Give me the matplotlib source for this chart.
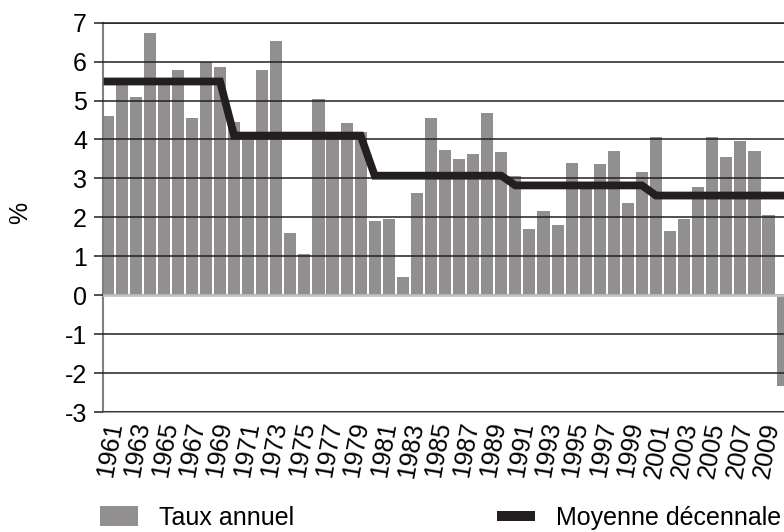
import matplotlib
matplotlib.use("Agg")
import matplotlib.pyplot as plt
from matplotlib.patches import Patch
from matplotlib.lines import Line2D

# annual growth rate, 1961-2009
years = list(range(1961, 2010))
rates = [4.60, 5.41, 5.08, 6.74, 5.45, 5.79, 4.55, 6.00, 5.86, 4.45,
         4.15, 5.79, 6.53, 1.59, 1.06, 5.03, 4.05, 4.43, 4.20, 1.90,
         1.95, 0.46, 2.63, 4.55, 3.73, 3.49, 3.63, 4.68, 3.68, 3.07,
         1.69, 2.17, 1.80, 3.39, 2.85, 3.37, 3.71, 2.37, 3.17, 4.07,
         1.64, 1.96, 2.77, 4.07, 3.56, 3.95, 3.71, 2.06, -2.32]

# decade average, one value per year
decade_avg = [5.49] * 9 + [4.10] * 10 + [3.07] * 10 + [2.82] * 10 + [2.56] * 10

tick_years = list(range(1961, 2010, 2))
y_ticks = [-3, -2, -1, 0, 1, 2, 3, 4, 5, 6, 7]

bar_color = "#918f90"
dark = "#231f20"

plt.rcParams["font.family"] = ["Liberation Sans", "DejaVu Sans"]
plt.rcParams["axes.unicode_minus"] = False

fig = plt.figure(figsize=(7.84, 5.32), dpi=100)
ax = fig.add_axes([103 / 784, 1 - 412 / 532, 1 - 103 / 784, (412 - 22.7) / 532])

ax.bar(years, rates, width=0.86, color=bar_color, zorder=1)
ax.plot(years, decade_avg, color=dark, lw=5.6, zorder=4,
        solid_capstyle="projecting", solid_joinstyle="miter")

ax.set_xlim(1960.68, 2009.1)
ax.set_ylim(-3, 7)
ax.set_yticks(y_ticks)
ax.set_yticklabels([str(v) for v in y_ticks])

# labels drift slightly against the bars in the original
ax.set_xticks([1961.18 + (y - 1961) * 0.973 for y in tick_years])
ax.set_xticklabels([str(y) for y in tick_years], rotation=80, ha="center")

ax.set_axisbelow(False)
ax.yaxis.grid(True, color=dark, lw=1.1, zorder=2.5)
ax.axhline(0, color="#c4c4c4", lw=2, zorder=2.6)

ax.tick_params(axis="y", length=6.5, width=1.1, color=dark, pad=5, labelsize=18)
ax.tick_params(axis="x", length=0, pad=6, labelsize=18)

ax.spines["right"].set_visible(False)
ax.spines["top"].set_color(dark)
ax.spines["top"].set_linewidth(1.1)
ax.spines["left"].set_color("#808080")
ax.spines["left"].set_linewidth(1.5)
ax.spines["bottom"].set_color("#9a9a9a")
ax.spines["bottom"].set_linewidth(1.5)

fig.text(20 / 784, 1 - 213 / 532, "%", rotation=90, ha="center", va="center", fontsize=18)

handles = [Patch(facecolor=bar_color, edgecolor="none", label="Taux annuel"),
           Line2D([], [], color=dark, lw=7.2, solid_capstyle="butt", label="Moyenne décennale")]
fig.legend(handles=handles, loc="center left", bbox_to_anchor=(100 / 784, 1 - 518 / 532),
           ncol=2, frameon=False, fontsize=18, borderpad=0, borderaxespad=0,
           handlelength=1.52, handleheight=0.84, handletextpad=0.84, columnspacing=8.1)

fig.savefig("out.png", dpi=100)
